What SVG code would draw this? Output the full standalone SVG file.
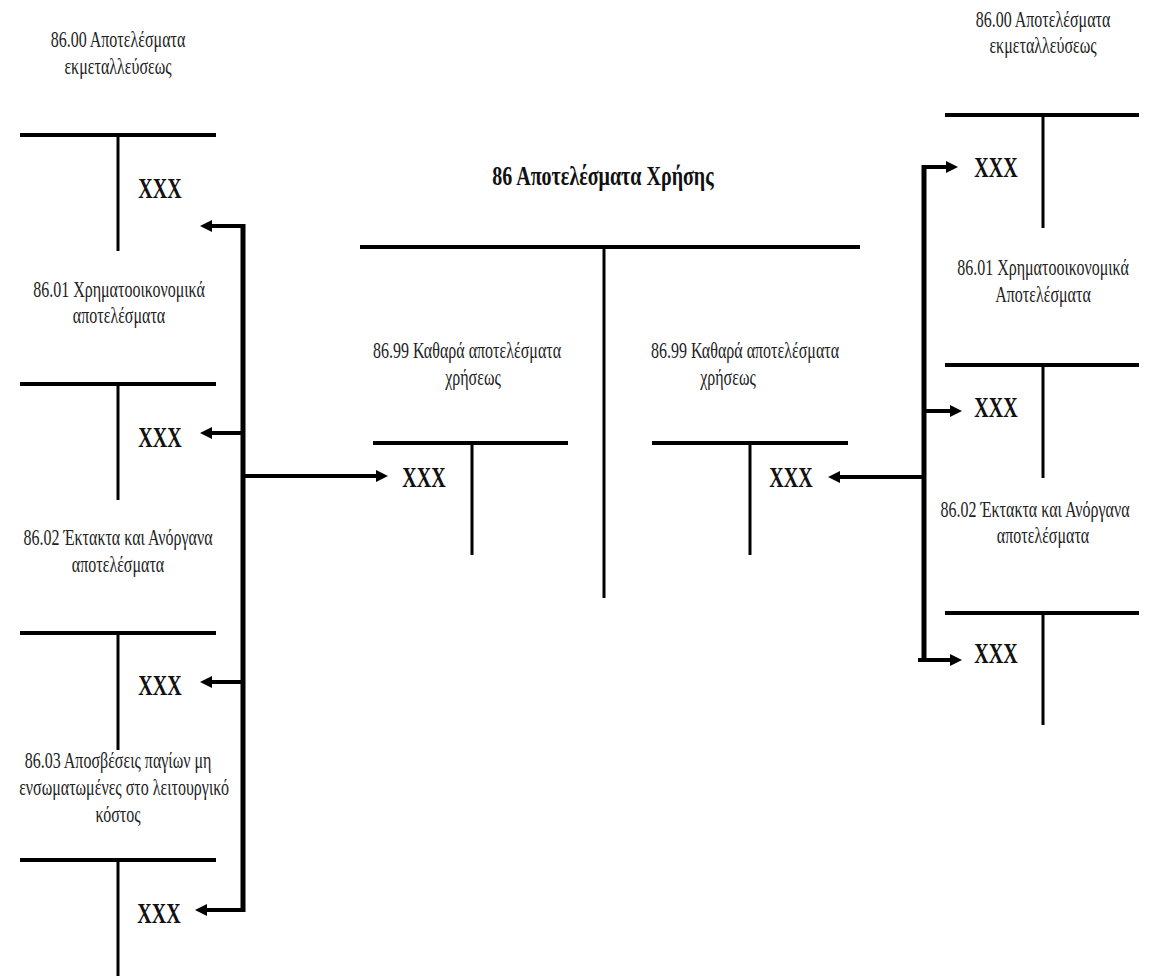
<svg xmlns="http://www.w3.org/2000/svg" width="1150" height="976" viewBox="0 0 1150 976">
  <style>
    .lbl { font-family: "Liberation Serif", "Times New Roman", serif; font-size: 16px; fill: #222; text-anchor: middle; }
    .ttl { font-family: "Liberation Serif", "Times New Roman", serif; font-size: 20px; font-weight: bold; fill: #111; text-anchor: middle; }
    .amt { font-family: "Liberation Serif", "Times New Roman", serif; font-size: 20px; font-weight: bold; fill: #111; text-anchor: middle; }
    .tl { stroke: #000; fill: none; }
    .th { stroke-width: 4; }
    .tv { stroke-width: 3; }
    .bus { stroke: #000; stroke-width: 5; fill: none; }
    .arr { stroke: #000; stroke-width: 4; fill: none; marker-end: url(#head); }
  </style>
  <defs>
    <marker id="head" markerUnits="userSpaceOnUse" markerWidth="13" markerHeight="13" refX="0" refY="6" orient="auto">
      <path d="M0,0 L12,6 L0,12 z" fill="#000"/>
    </marker>
  </defs>
  <rect width="1150" height="976" fill="#fff"/>

  <!-- Left column: sub-accounts 86.00 – 86.03 -->
  <g id="acc-8600-left">
    <text class="lbl" transform="translate(118,47) scale(1,1.4)">86.00 Αποτελέσματα</text>
    <text class="lbl" transform="translate(118,74) scale(1,1.4)">εκμεταλλεύσεως</text>
    <line class="tl th" x1="20" y1="135" x2="216" y2="135"/>
    <line class="tl tv" x1="118" y1="135" x2="118" y2="251"/>
    <text class="amt" transform="translate(160,198) scale(1,1.45)">XXX</text>
  </g>
  <g id="acc-8601-left">
    <text class="lbl" transform="translate(119,297) scale(1,1.4)">86.01 Χρηματοοικονομικά</text>
    <text class="lbl" transform="translate(119,323) scale(1,1.4)">αποτελέσματα</text>
    <line class="tl th" x1="20" y1="384" x2="216" y2="384"/>
    <line class="tl tv" x1="118" y1="384" x2="118" y2="500"/>
    <text class="amt" transform="translate(160,447) scale(1,1.45)">XXX</text>
  </g>
  <g id="acc-8602-left">
    <text class="lbl" transform="translate(118,545) scale(1,1.4)">86.02 Έκτακτα και Ανόργανα</text>
    <text class="lbl" transform="translate(118,572) scale(1,1.4)">αποτελέσματα</text>
    <line class="tl th" x1="20" y1="633" x2="216" y2="633"/>
    <line class="tl tv" x1="118" y1="633" x2="118" y2="750"/>
    <text class="amt" transform="translate(160,695) scale(1,1.45)">XXX</text>
  </g>
  <g id="acc-8603-left">
    <text class="lbl" transform="translate(118,768) scale(1,1.4)">86.03 Αποσβέσεις παγίων μη</text>
    <text class="lbl" transform="translate(124,795) scale(1,1.4)">ενσωματωμένες στο λειτουργικό</text>
    <text class="lbl" transform="translate(118,822) scale(1,1.4)">κόστος</text>
    <line class="tl th" x1="20" y1="860" x2="216" y2="860"/>
    <line class="tl tv" x1="118" y1="860" x2="118" y2="976"/>
    <text class="amt" transform="translate(159,923) scale(1,1.45)">XXX</text>
  </g>

  <!-- Centre: account 86 and its two 86.99 sides -->
  <g id="acc-86">
    <text class="ttl" transform="translate(603,185) scale(1,1.4)">86 Αποτελέσματα Χρήσης</text>
    <line class="tl th" x1="360" y1="247" x2="860" y2="247"/>
    <line class="tl tv" x1="604" y1="247" x2="604" y2="598"/>
  </g>
  <g id="acc-8699-debit">
    <text class="lbl" transform="translate(467,358) scale(1,1.4)">86.99 Καθαρά αποτελέσματα</text>
    <text class="lbl" transform="translate(473,385) scale(1,1.4)">χρήσεως</text>
    <line class="tl th" x1="373" y1="443" x2="568" y2="443"/>
    <line class="tl tv" x1="472" y1="443" x2="472" y2="555"/>
    <text class="amt" transform="translate(424,487) scale(1,1.45)">XXX</text>
  </g>
  <g id="acc-8699-credit">
    <text class="lbl" transform="translate(745,358) scale(1,1.4)">86.99 Καθαρά αποτελέσματα</text>
    <text class="lbl" transform="translate(728,385) scale(1,1.4)">χρήσεως</text>
    <line class="tl th" x1="652" y1="443" x2="848" y2="443"/>
    <line class="tl tv" x1="750" y1="443" x2="750" y2="555"/>
    <text class="amt" transform="translate(791,487) scale(1,1.45)">XXX</text>
  </g>

  <!-- Right column: sub-accounts 86.00 – 86.02 -->
  <g id="acc-8600-right">
    <text class="lbl" transform="translate(1043,27) scale(1,1.4)">86.00 Αποτελέσματα</text>
    <text class="lbl" transform="translate(1043,53) scale(1,1.4)">εκμεταλλεύσεως</text>
    <line class="tl th" x1="945" y1="115" x2="1139" y2="115"/>
    <line class="tl tv" x1="1043" y1="115" x2="1043" y2="228"/>
    <text class="amt" transform="translate(996,177) scale(1,1.45)">XXX</text>
  </g>
  <g id="acc-8601-right">
    <text class="lbl" transform="translate(1043,275) scale(1,1.4)">86.01 Χρηματοοικονομικά</text>
    <text class="lbl" transform="translate(1043,302) scale(1,1.4)">Αποτελέσματα</text>
    <line class="tl th" x1="945" y1="365" x2="1139" y2="365"/>
    <line class="tl tv" x1="1043" y1="365" x2="1043" y2="478"/>
    <text class="amt" transform="translate(996,417) scale(1,1.45)">XXX</text>
  </g>
  <g id="acc-8602-right">
    <text class="lbl" transform="translate(1035,517) scale(1,1.4)">86.02 Έκτακτα και Ανόργανα</text>
    <text class="lbl" transform="translate(1043,543) scale(1,1.4)">αποτελέσματα</text>
    <line class="tl th" x1="945" y1="613" x2="1139" y2="613"/>
    <line class="tl tv" x1="1043" y1="613" x2="1043" y2="725"/>
    <text class="amt" transform="translate(996,663) scale(1,1.45)">XXX</text>
  </g>

  <!-- Transfer arrows -->
  <g id="connectors">
    <line class="bus" x1="243" y1="224" x2="243" y2="912"/>
    <line class="arr" x1="245" y1="226" x2="212" y2="226"/>
    <line class="arr" x1="243" y1="433" x2="212" y2="433"/>
    <line class="arr" x1="243" y1="682" x2="212" y2="682"/>
    <line class="arr" x1="243" y1="910" x2="207" y2="910"/>
    <line class="arr" x1="243" y1="476" x2="376" y2="476"/>

    <line class="bus" x1="924" y1="165" x2="924" y2="662"/>
    <line class="arr" x1="922" y1="167" x2="946" y2="167"/>
    <line class="arr" x1="922" y1="411" x2="950" y2="411"/>
    <line class="arr" x1="918" y1="660" x2="950" y2="660"/>
    <line class="arr" x1="926" y1="477" x2="840" y2="477"/>
  </g>
</svg>
